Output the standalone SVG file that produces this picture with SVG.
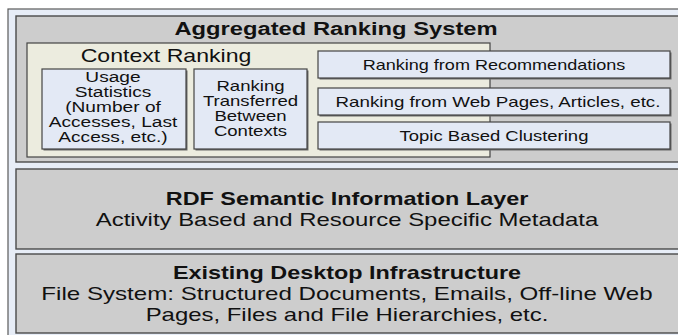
<svg xmlns="http://www.w3.org/2000/svg" width="678" height="335" viewBox="0 0 678 335">
<style>
.frame{fill:#e7edf7;stroke:#5a5a5a;stroke-width:1.2}
.layer{fill:#cdcdcd;stroke:#4a4a4a;stroke-width:1.4}
.ctx{fill:#ececdf;stroke:#444;stroke-width:1.2}
.box{fill:#e3e9f5;stroke:#444;stroke-width:1.2}
.sh{fill:#6a6a6a}
text{font-family:"Liberation Sans",Arial,sans-serif;fill:#111;text-anchor:middle}
.b{font-weight:bold}
.h{font-size:18px}
.m{font-size:14.5px}
.s{font-size:14px}
</style>
<rect class="frame" x="8" y="9" width="700" height="340"/>
<g id="aggregated-ranking-system">
<rect class="layer" x="16" y="16" width="690" height="146"/>
<text class="b h" transform="translate(336,35) scale(1.32,1)">Aggregated Ranking System</text>
</g>
<g id="context-ranking">
<rect class="ctx" x="27" y="43" width="463" height="114"/>
<text transform="translate(166,62) scale(1.32,1)" style="font-size:17.5px">Context Ranking</text>
</g>
<g id="usage-statistics">
<rect class="sh" x="43.5" y="70.5" width="144" height="80"/>
<rect class="box" x="42" y="69" width="144" height="80"/>
<text class="m" transform="translate(113,82) scale(1.32,1)">Usage</text>
<text class="m" transform="translate(113,97) scale(1.32,1)">Statistics</text>
<text class="m" transform="translate(113,112) scale(1.32,1)">(Number of</text>
<text class="m" transform="translate(113,127) scale(1.32,1)">Accesses, Last</text>
<text class="m" transform="translate(113,142) scale(1.32,1)">Access, etc.)</text>
</g>
<g id="ranking-transferred">
<rect class="sh" x="195.5" y="70.5" width="113" height="80"/>
<rect class="box" x="194" y="69" width="113" height="80"/>
<text class="m" transform="translate(250.5,91) scale(1.28,1)">Ranking</text>
<text class="m" transform="translate(250.5,106) scale(1.28,1)">Transferred</text>
<text class="m" transform="translate(250.5,121) scale(1.28,1)">Between</text>
<text class="m" transform="translate(250.5,136) scale(1.28,1)">Contexts</text>
</g>
<g id="ranking-recommendations">
<rect class="sh" x="319.5" y="52.5" width="352" height="27"/>
<rect class="box" x="318" y="51" width="352" height="27"/>
<text class="s" transform="translate(494,69.5) scale(1.29,1)">Ranking from Recommendations</text>
</g>
<g id="ranking-web-pages">
<rect class="sh" x="319.5" y="89.5" width="352" height="27"/>
<rect class="box" x="318" y="88" width="352" height="27"/>
<text class="s" transform="translate(498,106.5) scale(1.34,1)">Ranking from Web Pages, Articles, etc.</text>
</g>
<g id="topic-clustering">
<rect class="sh" x="319.5" y="123.5" width="352" height="27"/>
<rect class="box" x="318" y="122" width="352" height="27"/>
<text class="s" transform="translate(494,140.5) scale(1.32,1)">Topic Based Clustering</text>
</g>
<g id="rdf-layer">
<rect class="layer" x="16" y="169" width="690" height="80"/>
<text class="b h" transform="translate(347,205) scale(1.3,1)">RDF Semantic Information Layer</text>
<text class="h" transform="translate(347,226) scale(1.33,1)">Activity Based and Resource Specific Metadata</text>
</g>
<g id="desktop-infrastructure">
<rect class="layer" x="16" y="254" width="690" height="79"/>
<text class="b h" transform="translate(347,279) scale(1.3,1)">Existing Desktop Infrastructure</text>
<text class="h" transform="translate(347,300) scale(1.34,1)">File System: Structured Documents, Emails, Off-line Web</text>
<text class="h" transform="translate(347,321) scale(1.33,1)">Pages, Files and File Hierarchies, etc.</text>
</g>
</svg>
